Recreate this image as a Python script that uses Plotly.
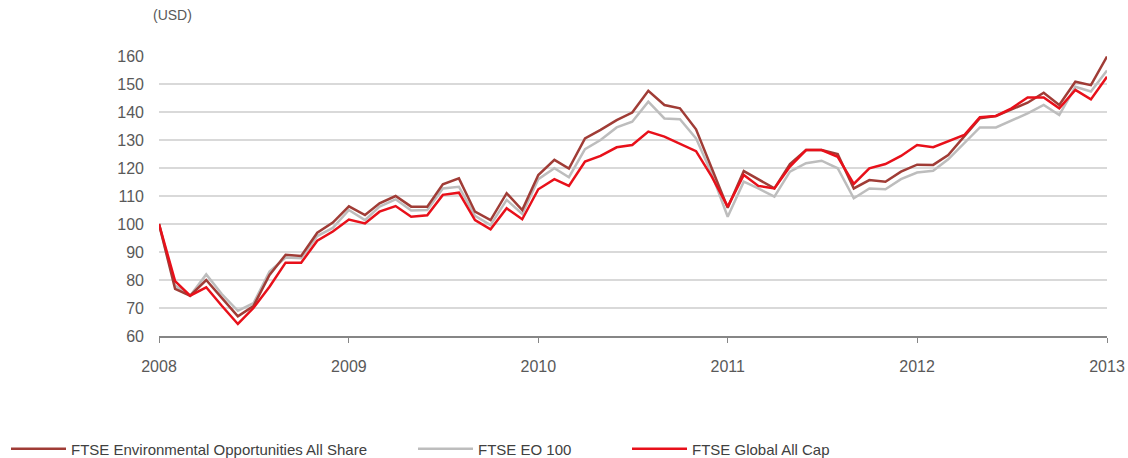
import pandas as pd
import plotly.graph_objects as go

# Monthly observations, Jan 2008 .. Jan 2013
months = pd.date_range("2008-01-01", "2013-01-01", freq="MS").strftime("%Y-%m-%d").tolist()

env_all_share = [100, 76.8, 74.4, 80, 73.6, 67, 70.7, 81.8, 89, 88.6, 96.9, 100.5,
                 106.3, 103.2, 107.4, 110, 106.2, 106.2, 114.2, 116.3, 104.4, 101.4, 111, 105,
                 117.5, 122.9, 119.8, 130.6, 133.6, 137.1, 139.8, 147.6, 142.5, 141.3, 133.8, 120,
                 105.8, 118.9, 116, 112.7, 121.4, 126.4, 126.4, 125, 112.7, 115.7, 115.1, 118.7,
                 121.2, 121.1, 124.6, 131.2, 137.8, 138.6, 141, 143.3, 146.9, 142.5, 150.8, 149.6,
                 159.8]
eo_100 = [100, 78, 74.4, 82, 75, 69, 71.7, 83, 88, 87.8, 95.7, 98.6,
          105, 101.4, 106.2, 108.8, 104.8, 105, 112.7, 113.3, 102.9, 99.6, 108.6, 103.6,
          116, 119.9, 116.7, 126.7, 130, 134.5, 136.5, 143.7, 137.7, 137.4, 130.6, 118,
          102.6, 115.1, 112.7, 109.8, 118.7, 121.7, 122.6, 119.9, 109.2, 112.7, 112.4, 116,
          118.4, 119, 123.1, 129, 134.5, 134.5, 137.1, 139.5, 142.5, 138.9, 149, 147.3,
          154.8]
global_all_cap = [100, 79.6, 74.4, 77.4, 70.8, 64.3, 70, 77.6, 86.2, 86.2, 94, 97.3,
                  101.6, 100.2, 104.4, 106.4, 102.6, 103.1, 110.4, 111.2, 101.4, 98.1, 105.6, 101.7,
                  112.4, 116, 113.6, 122.3, 124.3, 127.4, 128.2, 133, 131.2, 128.6, 126, 117,
                  106.2, 117.5, 113.6, 112.7, 120.5, 126.4, 126.4, 124, 114.3, 119.9, 121.4, 124.3,
                  128.2, 127.4, 129.4, 131.8, 138.1, 138.6, 141.3, 145.2, 145.2, 141.3, 147.9, 144.5,
                  152.6]

series_names = ["FTSE Environmental Opportunities All Share", "FTSE EO 100", "FTSE Global All Cap"]
series_values = [env_all_share, eo_100, global_all_cap]
series_colors = ["#a03c36", "#bdbdbd", "#e8101a"]
legend_ids = ["legend", "legend2", "legend3"]

fig = go.Figure()
order = [1, 0, 2]
for i in order:
    fig.add_trace(go.Scatter(
        x=months, y=series_values[i], mode="lines", name=series_names[i],
        line=dict(color=series_colors[i], width=2.5),
        legend=legend_ids[i], hoverinfo="x+y+name",
    ))

font_family = "Liberation Sans, Arial, sans-serif"
text_col = "#595959"

W, H = 1128, 458
L, R, T, B = 159, 21, 56, 122
pw = W - L - R
ph = H - T - B

def cx(px):
    return px / W

def cy(py):
    return 1 - py / H

def ly(py):
    return (H - B - py) / ph

def lx(px):
    return (px - L) / pw

legend_common = dict(orientation="h", xanchor="left", yanchor="middle",
                     xref="container", yref="container", itemwidth=55,
                     font=dict(family=font_family, size=15, color="#404040"),
                     bgcolor="rgba(0,0,0,0)", borderwidth=0)

fig.update_layout(
    width=W, height=H,
    margin=dict(l=L, r=R, t=T, b=B, pad=0, autoexpand=False),
    paper_bgcolor="white", plot_bgcolor="white",
    font=dict(family=font_family, size=16, color=text_col),
    showlegend=True,
    legend=dict(x=cx(6), y=cy(449), **legend_common),
    legend2=dict(x=cx(413), y=cy(449), **legend_common),
    legend3=dict(x=cx(627), y=cy(449), **legend_common),
    xaxis=dict(
        type="date", automargin=False,
        range=["2008-01-01", "2013-01-01"],
        dtick="M12", tick0="2008-01-01", tickformat="%Y",
        showgrid=False, zeroline=False,
        showline=True, linecolor="#868686", linewidth=2,
        ticks="outside", ticklen=5, tickwidth=1, tickcolor="#868686",
        ticklabelstandoff=10,
        tickfont=dict(family=font_family, size=16, color=text_col),
    ),
    yaxis=dict(
        range=[60, 160], dtick=10, tick0=60, automargin=False,
        showgrid=True, gridcolor="#d9d9d9", gridwidth=2,
        zeroline=False, showline=False, ticks="",
        ticklabelstandoff=14,
        tickfont=dict(family=font_family, size=16, color=text_col),
    ),
    annotations=[dict(
        text="(USD)", xref="paper", yref="paper",
        x=lx(172), y=ly(15), xanchor="center", yanchor="middle",
        showarrow=False, font=dict(family=font_family, size=14, color=text_col),
    )],
)

fig.write_html("out.html", config={"displayModeBar": False},
               post_script="document.body.style.margin='0px';document.body.style.overflow='hidden';")
